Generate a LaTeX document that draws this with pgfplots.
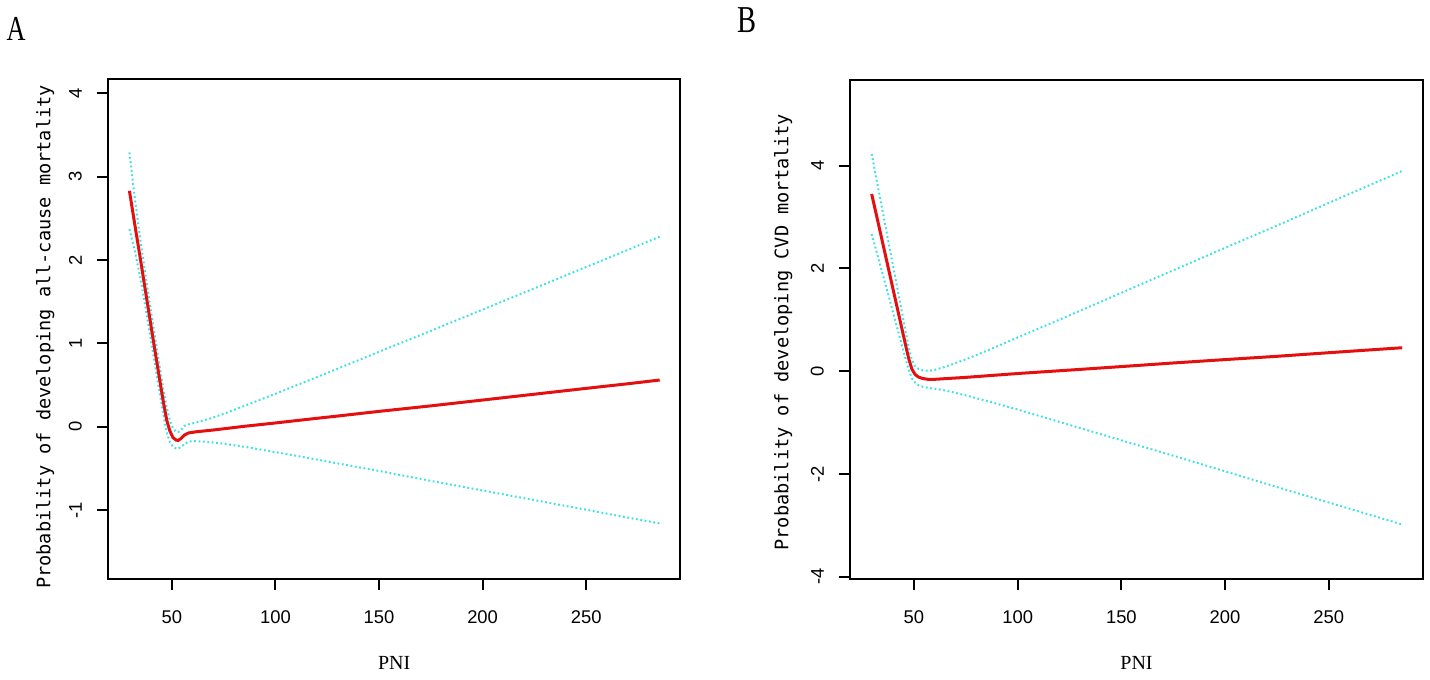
\documentclass[border=0pt]{standalone}
\usepackage{fontspec}
\setmainfont{Liberation Serif}
\newfontfamily\ticksf{Liberation Sans}
\newfontfamily\labmono{DejaVu Sans Mono}
\usepackage{pgfplots}
\pgfplotsset{compat=1.18}
\definecolor{rred}{RGB}{228,16,16}
\definecolor{rcyan}{RGB}{60,225,230}

\pgfplotsset{
  rstyle/.style={
    scale only axis,
    axis line style={line width=1pt},
    every tick/.style={line width=1pt, black},
    tick align=outside,
    major tick length=5.5pt,
    xtick pos=left, ytick pos=left,
    xmin=19.3, xmax=295.3,
    xtick={50,100,150,200,250},
    xticklabels={50,100,150,200,250},
    tick label style={font=\fontsize{9.2}{10}\ticksf, inner sep=0pt},
    xticklabel shift=10pt,
    yticklabel shift=7.5pt,
    yticklabel style={rotate=90, anchor=south},
    xlabel={PNI},
    xlabel style={font=\fontsize{10}{12}\selectfont, at={(axis description cs:0.5,0)}, anchor=center, yshift=-42pt},
    ylabel style={font=\fontsize{9.3}{11}\labmono, anchor=center},
  },
  redl/.style={rred, line width=1.5pt},
  cil/.style={rcyan, line width=1pt, dash pattern=on 0.9pt off 1.3pt},
}

\begin{document}
\begin{tikzpicture}
\useasboundingbox (0,0) rectangle (715pt,340pt);
\node[font=\fontsize{17.5}{18}\selectfont, xscale=0.75, anchor=center] at (8pt,325.3pt) {A};
\node[font=\fontsize{19}{20}\selectfont, xscale=0.75, anchor=center] at (373.5pt,330pt) {B};

\begin{axis}[rstyle, at={(54.15pt,50.5pt)}, anchor=south west,
  width=285.85pt, height=249.85pt,
  ymin=-1.827, ymax=4.168,
  ytick={-1,0,1,2,3,4}, yticklabels={-1,0,1,2,3,4},
  ylabel={Probability of developing all-cause mortality},
  ylabel style={at={(axis description cs:-0.1102,0.4843)}}]
\addplot[cil] coordinates {
(29.5,3.29) (32,2.76) (35,2.20) (38,1.70) (41,1.21) (44,0.74) (46,0.43) (47.5,0.23)
(49,0.08) (50.5,-0.02) (52,-0.06) (53,-0.065) (54.5,-0.04) (56,0.01) (58,0.028)
(62,0.053) (68,0.094) (75,0.154) (85,0.250) (100,0.395) (115,0.545) (130,0.696)
(150,0.899) (175,1.150) (200,1.405) (225,1.660) (250,1.916) (270,2.120) (285.5,2.280)};
\addplot[cil] coordinates {
(29.5,2.37) (32,2.12) (35,1.76) (38,1.32) (41,0.87) (44,0.42) (46,0.13) (47.5,-0.07)
(49,-0.18) (50.5,-0.24) (52,-0.26) (53,-0.265) (54.5,-0.24) (56,-0.21) (58,-0.178)
(62,-0.173) (68,-0.184) (75,-0.204) (85,-0.240) (100,-0.305) (115,-0.371) (130,-0.440)
(150,-0.531) (175,-0.650) (200,-0.765) (225,-0.880) (250,-0.996) (270,-1.090) (285.5,-1.160)};
\addplot[redl] coordinates {
(29.5,2.83) (32,2.44) (35,1.98) (38,1.51) (41,1.04) (44,0.58) (46,0.28) (47.5,0.08)
(49,-0.05) (50.5,-0.13) (52,-0.16) (53,-0.165) (54.5,-0.14) (56,-0.10) (58,-0.075)
(62,-0.06) (68,-0.045) (75,-0.025) (85,0.005) (100,0.045) (115,0.087) (130,0.128)
(150,0.184) (175,0.25) (200,0.32) (225,0.39) (250,0.46) (270,0.515) (285.5,0.56)};
\end{axis}

\begin{axis}[rstyle, at={(425.15pt,50.35pt)}, anchor=south west,
  width=286.2pt, height=249.65pt,
  ymin=-4.05, ymax=5.668,
  ytick={-4,-2,0,2,4}, yticklabels={-4,-2,0,2,4},
  ylabel={Probability of developing CVD mortality},
  ylabel style={at={(axis description cs:-0.117,0.495)}}]
\addplot[cil] coordinates {
(29.6,4.23) (32,3.72) (35,3.09) (38,2.45) (41,1.82) (44,1.19) (46,0.77) (47.5,0.46)
(49,0.22) (50.5,0.10) (52,0.05) (54,0.02) (57,0.006) (60,0.025) (65,0.084) (75,0.231)
(85,0.397) (100,0.656) (115,0.915) (130,1.175) (150,1.525) (175,1.964) (200,2.400)
(225,2.834) (250,3.275) (270,3.627) (285.4,3.897)};
\addplot[cil] coordinates {
(29.6,2.67) (32,2.32) (35,1.87) (38,1.43) (41,0.98) (44,0.53) (46,0.23) (47.5,0.02)
(49,-0.14) (50.5,-0.22) (52,-0.27) (54,-0.30) (57,-0.326) (60,-0.341) (65,-0.374) (75,-0.471)
(85,-0.577) (100,-0.746) (115,-0.925) (130,-1.105) (150,-1.345) (175,-1.644) (200,-1.948)
(225,-2.254) (250,-2.555) (270,-2.797) (285.4,-2.983)};
\addplot[redl] coordinates {
(29.6,3.45) (32,3.02) (35,2.48) (38,1.94) (41,1.40) (44,0.86) (46,0.50) (47.5,0.24)
(49,0.04) (50.5,-0.06) (52,-0.11) (54,-0.14) (57,-0.16) (60,-0.158) (65,-0.145) (75,-0.12)
(85,-0.09) (100,-0.045) (115,-0.005) (130,0.035) (150,0.09) (175,0.16) (200,0.226)
(225,0.29) (250,0.36) (270,0.415) (285.4,0.457)};
\end{axis}
\end{tikzpicture}
\end{document}
